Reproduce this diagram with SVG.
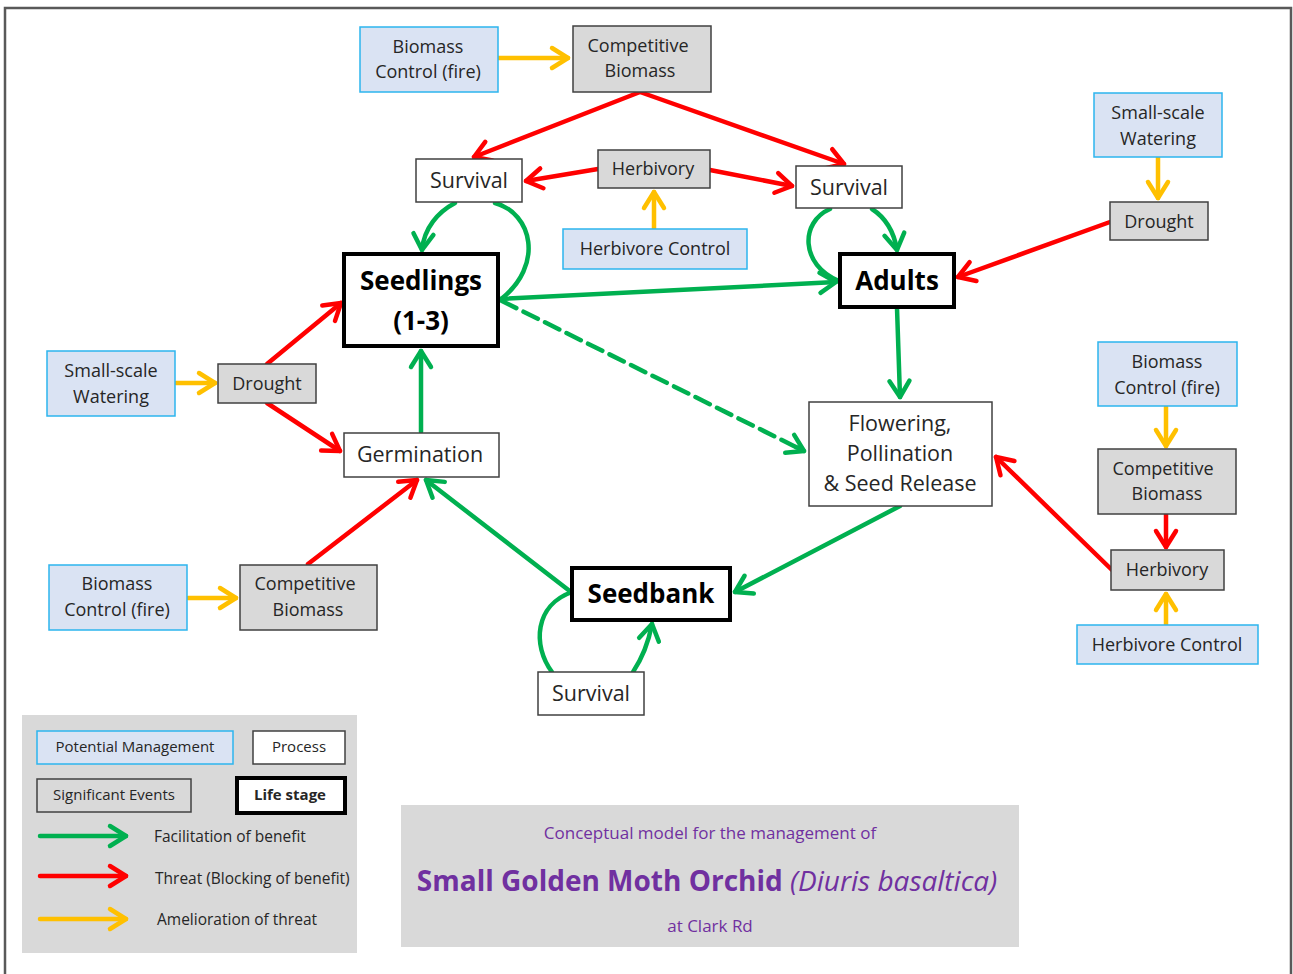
<svg xmlns="http://www.w3.org/2000/svg" width="1293" height="974" viewBox="0 0 1293 974">
  <style>
    .mgmt { fill: #dae3f3; stroke: #2cb5ee; stroke-width: 1.5; }
    .event { fill: #d9d9d9; stroke: #404040; stroke-width: 1.5; }
    .proc { fill: #ffffff; stroke: #404040; stroke-width: 1.5; }
    .life { fill: #ffffff; stroke: #000000; stroke-width: 4; }
    text { font-family: "Open Sans", "Liberation Sans", sans-serif; fill: #262626; text-anchor: middle; }
    .t18 { font-size: 18px; }
    .t21 { font-size: 21.5px; }
    .tb { font-size: 26px; font-weight: bold; fill: #000; }
    .leg { font-size: 15px; }
    .legl { font-size: 15.5px; text-anchor: start; }
    .ttl { fill: #7030a0; }
    .c { fill: none; stroke-width: 4.5; stroke-linecap: round; stroke-linejoin: round; }
    .g { stroke: #00b050; }
    .r { stroke: #ff0000; }
    .y { stroke: #ffc000; }
    .ga { marker-end: url(#ah-g); }
    .ra { marker-end: url(#ah-r); }
    .ya { marker-end: url(#ah-y); }
  </style>
  <defs>
    <marker id="ah-g" markerUnits="userSpaceOnUse" viewBox="-20 -15 30 30" markerWidth="30" markerHeight="30" refX="0" refY="0" orient="auto" overflow="visible">
      <path d="M-16,-10 L0,0 L-16,10" fill="none" stroke="#00b050" stroke-width="4.5" stroke-linecap="round" stroke-linejoin="round"/>
    </marker>
    <marker id="ah-r" markerUnits="userSpaceOnUse" viewBox="-20 -15 30 30" markerWidth="30" markerHeight="30" refX="0" refY="0" orient="auto" overflow="visible">
      <path d="M-16,-10 L0,0 L-16,10" fill="none" stroke="#ff0000" stroke-width="4.5" stroke-linecap="round" stroke-linejoin="round"/>
    </marker>
    <marker id="ah-y" markerUnits="userSpaceOnUse" viewBox="-20 -15 30 30" markerWidth="30" markerHeight="30" refX="0" refY="0" orient="auto" overflow="visible">
      <path d="M-16,-10 L0,0 L-16,10" fill="none" stroke="#ffc000" stroke-width="4.5" stroke-linecap="round" stroke-linejoin="round"/>
    </marker>
  </defs>

  <rect width="1293" height="974" fill="#ffffff"/>
  <!-- page frame (open at the bottom) -->
  <path d="M5,974 V8 H1291 V974" fill="none" stroke="#595959" stroke-width="2.5"/>

  <!-- connectors -->
  <g id="connectors">
    <!-- amelioration (yellow) -->
    <path class="c y ya" d="M498,58 L568,58"/>
    <path class="c y ya" d="M654,229 L654,192"/>
    <path class="c y ya" d="M1158,157 L1158,198"/>
    <path class="c y ya" d="M176,383 L215,383"/>
    <path class="c y ya" d="M188,598 L236,598"/>
    <path class="c y ya" d="M1166,407 L1166,446"/>
    <path class="c y ya" d="M1166,625 L1166,594"/>
    <!-- threats (red) -->
    <path class="c r ra" d="M640,92 L474,157"/>
    <path class="c r ra" d="M640,92 L844,164"/>
    <path class="c r ra" d="M598,169 L526,181"/>
    <path class="c r ra" d="M710,170 L792,186"/>
    <path class="c r ra" d="M1110,222 L958,277"/>
    <path class="c r ra" d="M267,364 L341,303"/>
    <path class="c r ra" d="M267,403 L340,451"/>
    <path class="c r ra" d="M308,564 L417,480"/>
    <path class="c r ra" d="M1166,514 L1166,547"/>
    <path class="c r ra" d="M1112,570 L996,457"/>
    <!-- facilitation (green) -->
    <path class="c g ga" d="M455,203 C438,212 424,228 422,250"/>
    <path class="c g" d="M495,203 C532,213 545,265 500,300"/>
    <path class="c g ga" d="M500,299 L836,282"/>
    <path class="c g" d="M502,301 L798,448" stroke-linecap="butt" stroke-dasharray="16 8"/>
    <path class="c g ga" d="M796,447 L804,451"/>
    <path class="c g" d="M830,209 C800,222 800,265 839,281"/>
    <path class="c g ga" d="M872,209 C886,218 894,232 897,250"/>
    <path class="c g ga" d="M897,308 L900,397"/>
    <path class="c g ga" d="M421,432 L421,351"/>
    <path class="c g ga" d="M900,506 L735,592"/>
    <path class="c g ga" d="M571,592 L426,480"/>
    <path class="c g" d="M552,672 C532,645 535,605 572,592"/>
    <path class="c g ga" d="M633,672 C641,660 648,645 652,624"/>
  </g>

  <!-- top row -->
  <g id="biomass-control-top">
    <rect class="mgmt" x="360" y="27" width="138" height="65"/>
    <text class="t18" x="428" y="53">Biomass</text>
    <text class="t18" x="428" y="78">Control (fire)</text>
  </g>
  <g id="competitive-biomass-top">
    <rect class="event" x="573" y="26" width="138" height="66"/>
    <text class="t18" x="638" y="52">Competitive</text>
    <text class="t18" x="640" y="77">Biomass</text>
  </g>
  <g id="survival-seedlings">
    <rect class="proc" x="416" y="159" width="106" height="43"/>
    <text class="t21" x="469" y="188">Survival</text>
  </g>
  <g id="herbivory-top">
    <rect class="event" x="598" y="150" width="112" height="38"/>
    <text class="t18" x="653" y="175">Herbivory</text>
  </g>
  <g id="herbivore-control-top">
    <rect class="mgmt" x="563" y="229" width="184" height="40"/>
    <text class="t18" x="655" y="255">Herbivore Control</text>
  </g>
  <g id="survival-adults">
    <rect class="proc" x="796" y="166" width="106" height="42"/>
    <text class="t21" x="849" y="195">Survival</text>
  </g>
  <g id="watering-right">
    <rect class="mgmt" x="1094" y="93" width="128" height="64"/>
    <text class="t18" x="1158" y="119">Small-scale</text>
    <text class="t18" x="1158" y="145">Watering</text>
  </g>
  <g id="drought-right">
    <rect class="event" x="1110" y="202" width="98" height="38"/>
    <text class="t18" x="1159" y="228">Drought</text>
  </g>

  <!-- life stages -->
  <g id="seedlings">
    <rect class="life" x="344" y="254" width="154" height="92"/>
    <text class="tb" x="421" y="290">Seedlings</text>
    <text class="tb" x="421" y="330">(1-3)</text>
  </g>
  <g id="adults">
    <rect class="life" x="840" y="254" width="114" height="53"/>
    <text class="tb" x="897" y="290">Adults</text>
  </g>
  <g id="seedbank">
    <rect class="life" x="572" y="568" width="158" height="52"/>
    <text class="tb" x="651" y="603">Seedbank</text>
  </g>

  <!-- left side -->
  <g id="watering-left">
    <rect class="mgmt" x="47" y="351" width="128" height="65"/>
    <text class="t18" x="111" y="377">Small-scale</text>
    <text class="t18" x="111" y="403">Watering</text>
  </g>
  <g id="drought-left">
    <rect class="event" x="218" y="364" width="98" height="39"/>
    <text class="t18" x="267" y="390">Drought</text>
  </g>
  <g id="germination">
    <rect class="proc" x="344" y="433" width="155" height="44"/>
    <text class="t21" x="420" y="462">Germination</text>
  </g>
  <g id="biomass-control-left">
    <rect class="mgmt" x="49" y="565" width="138" height="65"/>
    <text class="t18" x="117" y="590">Biomass</text>
    <text class="t18" x="117" y="616">Control (fire)</text>
  </g>
  <g id="competitive-biomass-left">
    <rect class="event" x="240" y="565" width="137" height="65"/>
    <text class="t18" x="305" y="590">Competitive</text>
    <text class="t18" x="308" y="616">Biomass</text>
  </g>
  <g id="survival-seedbank">
    <rect class="proc" x="538" y="672" width="106" height="43"/>
    <text class="t21" x="591" y="701">Survival</text>
  </g>

  <!-- right side -->
  <g id="flowering">
    <rect class="proc" x="809" y="402" width="183" height="104"/>
    <text class="t21" x="900" y="431">Flowering,</text>
    <text class="t21" x="900" y="461">Pollination</text>
    <text class="t21" x="900" y="491">&amp; Seed Release</text>
  </g>
  <g id="biomass-control-right">
    <rect class="mgmt" x="1098" y="342" width="139" height="64"/>
    <text class="t18" x="1167" y="368">Biomass</text>
    <text class="t18" x="1167" y="394">Control (fire)</text>
  </g>
  <g id="competitive-biomass-right">
    <rect class="event" x="1098" y="449" width="138" height="65"/>
    <text class="t18" x="1163" y="475">Competitive</text>
    <text class="t18" x="1167" y="500">Biomass</text>
  </g>
  <g id="herbivory-right">
    <rect class="event" x="1111" y="550" width="113" height="40"/>
    <text class="t18" x="1167" y="576">Herbivory</text>
  </g>
  <g id="herbivore-control-right">
    <rect class="mgmt" x="1077" y="625" width="181" height="39"/>
    <text class="t18" x="1167" y="651">Herbivore Control</text>
  </g>

  <!-- legend -->
  <g id="legend">
    <rect x="22" y="715" width="335" height="238" fill="#d9d9d9"/>
    <rect class="mgmt" x="37" y="731" width="196" height="33"/>
    <text class="leg" x="135" y="752">Potential Management</text>
    <rect class="proc" x="253" y="731" width="92" height="33"/>
    <text class="leg" x="299" y="752">Process</text>
    <rect class="proc" x="37" y="779" width="154" height="33" style="fill:none"/>
    <text class="leg" x="114" y="800">Significant Events</text>
    <rect class="life" x="237" y="778" width="108" height="35"/>
    <text class="leg" x="290" y="800" font-weight="bold" fill="#000">Life stage</text>
    <path class="c g ga" d="M40,836 L126,836"/>
    <path class="c r ra" d="M40,876 L126,876"/>
    <path class="c y ya" d="M40,919 L126,919"/>
    <text class="legl" x="154" y="842">Facilitation of benefit</text>
    <text class="legl" x="155" y="884">Threat (Blocking of benefit)</text>
    <text class="legl" x="157" y="925">Amelioration of threat</text>
  </g>

  <!-- title panel -->
  <g id="title">
    <rect x="401" y="805" width="618" height="142" fill="#d9d9d9"/>
    <text class="ttl" x="710" y="839" font-size="17px">Conceptual model for the management of</text>
    <text class="ttl" x="707" y="891" font-size="28px"><tspan font-weight="bold">Small Golden Moth Orchid</tspan> <tspan font-style="italic">(Diuris basaltica)</tspan></text>
    <text class="ttl" x="710" y="932" font-size="17px">at Clark Rd</text>
  </g>
</svg>
